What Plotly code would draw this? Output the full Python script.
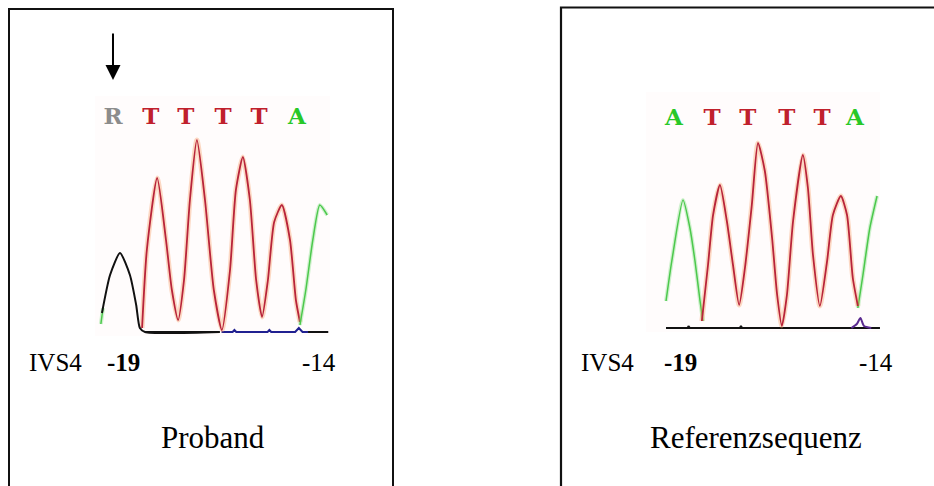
import plotly.graph_objects as go

W, H = 934, 486

# ---------------- data ----------------
# base positions (sequence index, 0 = IVS4 -19) and signal intensities
# Left panel: Proband
left_bases = ["R", "T", "T", "T", "T", "A"]
left_base_pos = [0.0, 1.03, 1.98, 2.99, 3.97, 5.0]
left_base_colors = ["#8c8c8c", "#c0202c", "#c0202c", "#c0202c", "#c0202c", "#28c828"]

left_red_x = [0.79, 0.92, 1.20, 1.44, 1.60, 1.77, 1.93, 2.09, 2.28, 2.50, 2.74, 2.96,
              3.18, 3.34, 3.53, 3.72, 3.89, 4.05, 4.21, 4.38, 4.59, 4.81, 4.97, 5.08]
left_red_y = [2, 41, 77, 46, 21, 6, 26, 66, 96, 66, 21, 1,
              31, 71, 87.5, 66, 26, 7.5, 26, 55, 63.5, 46, 16, 5]
left_black_x = [-0.30, -0.08, 0.19, 0.46, 0.63, 0.73, 0.87, 2.90]
left_black_y = [9.5, 28.5, 39.5, 28.5, 13.5, 2, 0, 0]
left_black2_x = [5.30, 5.85]
left_black2_y = [0, 0]
left_green_x = [-0.33, -0.27, -0.22, 5.08, 5.24, 5.43, 5.62, 5.82]
left_green_y = [4, 12, None, 3.5, 21, 46, 63.5, 58.5]
left_blue_x = [2.95, 3.25, 3.30, 3.35, 4.20, 4.25, 4.30, 4.95, 5.05, 5.15, 5.30]
left_blue_y = [0, 0, 1, 0, 0, 1, 0, 0, 2, 0, 0]

# Right panel: Referenzsequenz
right_bases = ["A", "T", "T", "T", "T", "A"]
right_base_pos = [0.0, 1.05, 2.04, 3.12, 4.09, 5.0]
right_base_colors = ["#28c828", "#c0202c", "#c0202c", "#c0202c", "#c0202c", "#28c828"]

right_green_x = [-0.22, -0.06, 0.25, 0.44, 0.58, 0.72, 0.80, None,
                 5.08, 5.22, 5.41, 5.61]
right_green_y = [13.5, 33.5, 64, 50, 33.5, 13.5, 3.5, None,
                 10, 26.5, 50, 66]
right_red_x = [0.77, 0.94, 1.08, 1.27, 1.46, 1.63, 1.80, 1.96, 2.15, 2.32, 2.51, 2.71,
               2.85, 2.98, 3.12, 3.29, 3.56, 3.70, 3.84, 4.03, 4.23, 4.39, 4.61, 4.78,
               4.94, 5.08]
right_red_y = [3.5, 31.5, 56.5, 71.5, 53.5, 31.5, 11.5, 30, 61.5, 92.5, 78.5, 45,
               16.5, 1, 16.5, 53.5, 86.5, 70, 36.5, 11, 33.5, 56.5, 66, 56.5,
               25, 11]
right_black_x = [-0.22, 0.38, 0.40, 0.44, 1.82, 1.85, 1.88, 5.69]
right_black_y = [0, 0, 1, 0, 0, 1, 0, 0]
right_purple_x = [4.90, 5.05, 5.15, 5.25, 5.45]
right_purple_y = [0, 2, 5, 1, 0]

# text labels
left_labels = ["IVS4", "<b>-19</b>", "-14"]
right_labels = ["IVS4", "<b>-19</b>", "-14"]
titles = ["Proband", "Referenzsequenz"]

# ---------------- helpers ----------------
def px(x):
    return x / W

def py(y):
    return 1 - y / H

RED = "#b8243a"
HALO = "rgba(245,150,90,0.35)"
GREEN = "#4cc84c"
BLACK = "#111111"
NAVY = "#202090"

fig = go.Figure()

def add_line(x, y, color, width, xa, ya, shape="spline"):
    fig.add_trace(go.Scatter(x=x, y=y, mode="lines", xaxis=xa, yaxis=ya,
                             line=dict(color=color, width=width, shape=shape, smoothing=0.6),
                             connectgaps=False, hoverinfo="skip", showlegend=False))

# left panel traces
add_line(left_black_x[-2:] + [None] + left_black2_x, [0, 0, None] + left_black2_y, BLACK, 2, "x", "y", "linear")
add_line(left_blue_x, left_blue_y, NAVY, 2, "x", "y", "linear")
add_line(left_red_x, left_red_y, HALO, 5, "x", "y")
add_line(left_red_x, left_red_y, RED, 1.8, "x", "y")
add_line(left_green_x, left_green_y, "rgba(120,220,120,0.35)", 4, "x", "y")
add_line(left_green_x, left_green_y, GREEN, 1.5, "x", "y")
add_line(left_black_x, left_black_y, BLACK, 2, "x", "y")

# right panel traces
add_line(right_black_x, right_black_y, BLACK, 2, "x2", "y2", "linear")
add_line(right_purple_x, right_purple_y, "#5a2a90", 2, "x2", "y2")
add_line(right_green_x, right_green_y, "rgba(120,220,120,0.35)", 4, "x2", "y2")
add_line(right_green_x, right_green_y, GREEN, 1.5, "x2", "y2")
add_line(right_red_x, right_red_y, HALO, 5, "x2", "y2")
add_line(right_red_x, right_red_y, RED, 1.8, "x2", "y2")

# base-call letters
letter_font = "DejaVu Serif"
fig.add_trace(go.Scatter(x=left_base_pos, y=[107] * len(left_bases), mode="text",
                         text=[f"<b>{b}</b>" for b in left_bases], xaxis="x", yaxis="y",
                         textfont=dict(family=letter_font, size=23, color=left_base_colors),
                         hoverinfo="skip", showlegend=False))
fig.add_trace(go.Scatter(x=right_base_pos, y=[104.5] * len(right_bases), mode="text",
                         text=[f"<b>{b}</b>" for b in right_bases], xaxis="x2", yaxis="y2",
                         textfont=dict(family=letter_font, size=23, color=right_base_colors),
                         hoverinfo="skip", showlegend=False))

ax_common = dict(showgrid=False, zeroline=False, showticklabels=False, ticks="",
                 showline=False, fixedrange=True)

fig.update_layout(
    width=W, height=H,
    margin=dict(l=0, r=0, t=0, b=0),
    paper_bgcolor="white", plot_bgcolor="#fffcfc",
    xaxis=dict(domain=[px(95), px(330)], range=[-0.489, 5.897], anchor="y", **ax_common),
    yaxis=dict(domain=[py(336), py(96)], range=[-2, 118], anchor="x", **ax_common),
    xaxis2=dict(domain=[px(646), px(880)], range=[-0.773, 5.691], anchor="y2", **ax_common),
    yaxis2=dict(domain=[py(332), py(92)], range=[-2, 118], anchor="x2", **ax_common),
    showlegend=False,
)

# frames
fig.add_shape(type="rect", xref="paper", yref="paper",
              x0=px(9), x1=px(393), y0=py(520), y1=py(9),
              line=dict(color="#111111", width=2), fillcolor="rgba(0,0,0,0)", layer="below")
fig.add_shape(type="rect", xref="paper", yref="paper",
              x0=px(561), x1=px(980), y0=py(520), y1=py(7.5),
              line=dict(color="#111111", width=2.2), fillcolor="rgba(0,0,0,0)", layer="below")

# arrow over the mutated position
fig.add_annotation(x=left_base_pos[0], y=py(80), xref="x", yref="paper",
                   ax=0, ay=-48, showarrow=True, arrowhead=2, arrowsize=1.5,
                   arrowwidth=2, arrowcolor="black", text="")

serif = "Liberation Serif, Times New Roman, serif"
label_font = dict(family=serif, size=25, color="black")
for labels, xs in ((left_labels, [55.5, 123, 318.5]), (right_labels, [607.5, 680, 876])):
    for t, xc in zip(labels, xs):
        fig.add_annotation(x=px(xc), y=py(362), xref="paper", yref="paper",
                           text=t, showarrow=False, font=label_font,
                           xanchor="center", yanchor="middle")

for t, xc in zip(titles, [213, 756]):
    fig.add_annotation(x=px(xc), y=py(437), xref="paper", yref="paper",
                       text=t, showarrow=False,
                       font=dict(family=serif, size=31, color="black"),
                       xanchor="center", yanchor="middle")

fig.write_html("out.html")
